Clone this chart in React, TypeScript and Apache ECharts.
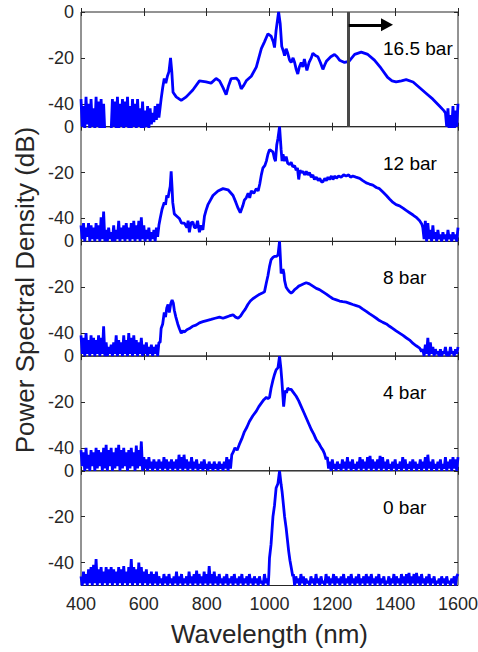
import React, { useEffect, useRef } from "react";
import * as echarts from "echarts";

// ---------- labels ----------
const pressures = ["16.5 bar", "12 bar", "8 bar", "4 bar", "0 bar"];
const yTickValues = [0, -20, -40];
const xTitle = "Wavelength (nm)";
const yTitle = "Power Spectral Density (dB)";
const noiseStep = 4; // nm spacing of noise-floor samples

// ---------- 16.5 bar ----------
const n16L = [
  -38, -50, -41, -51, -37, -49, -40, -52, -38, -50,
  -42, -51, -37, -50, -39, -52, -38, -51, -40, -53,
  -54, -53, -55, -54, -52,
  -38, -50, -39, -51, -37, -52, -40, -50, -38, -51,
  -39, -50, -37, -51, -41, -52, -38, -50, -40, -51,
  -38, -50, -42, -51, -39, -52, -43, -50, -41, -51,
  -42, -49, -44, -48, -41, -47, -40, -46,
];
const main16: [number, number][] = [
  [655, -38], [660, -33], [665, -29], [670, -31], [675, -28], [680, -26], [685, -20], [689, -26],
  [693, -35], [703, -37], [719, -38.5], [735, -37], [756, -34], [777, -30], [798, -30.5], [814, -31],
  [830, -29], [841, -30], [852, -33], [862, -36], [870, -32], [878, -29], [894, -28.8], [902, -30],
  [910, -33.5], [918, -32], [926, -30], [942, -28], [958, -24], [974, -16], [984, -13], [995, -9.5],
  [1005, -10.5], [1012, -13], [1016, -15.5], [1021, -8], [1029, 0], [1034, -5], [1039, -15], [1044, -17],
  [1048, -19], [1053, -16], [1058, -18], [1064, -21], [1069, -22], [1075, -20], [1080, -22], [1085, -25],
  [1090, -27], [1095, -24], [1101, -22], [1106, -24], [1111, -20.5], [1115, -23], [1119, -25.5], [1126, -22],
  [1133, -20], [1138, -18], [1146, -19], [1154, -19.5], [1162, -22], [1170, -25], [1176, -23], [1181, -21.5],
  [1195, -19.5], [1207, -18.5], [1215, -19.5], [1223, -21], [1239, -22], [1253, -21.5], [1262, -20], [1271, -18.5],
  [1292, -17.5], [1313, -18.5], [1334, -21], [1355, -24.5], [1376, -28.5], [1390, -30], [1403, -30.5], [1420, -30],
  [1435, -29.5], [1457, -30.5], [1478, -33], [1499, -35.5], [1520, -38], [1541, -41], [1555, -43],
];
const n16R = [-44, -50, -42, -52, -45, -51, -41, -53, -43, -50, -40];

// ---------- 12 bar ----------
const n12L = [
  -43, -49, -42, -50, -44, -48, -42, -50, -43, -49,
  -44, -50, -42, -49, -43, -50, -39.5, -49, -37, -50,
  -45, -50, -44, -49, -46, -50, -43, -50, -45, -49,
  -41, -50, -44, -49, -43, -50, -42, -49, -44, -50,
  -42, -49, -41, -50, -43, -49, -41, -50, -39.5, -49,
  -43, -50, -45, -49, -44, -50, -46, -49, -45, -50,
  -44, -48, -43,
];
const main12: [number, number][] = [
  [652, -40], [658, -36], [665, -33], [669, -34], [673, -30], [677, -31], [681, -28], [684, -26],
  [687, -19.5], [690, -27], [692, -33], [697, -38], [705, -39], [713, -40], [720, -42], [729, -42],
  [737, -44], [741, -41], [745, -46], [750, -42], [756, -41.5], [761, -44], [766, -44], [771, -41],
  [777, -46], [782, -43], [788, -45], [793, -39], [798, -36.5], [804, -34], [812, -32], [820, -30],
  [836, -28], [852, -27], [868, -27.5], [884, -30], [893, -33], [900, -35.5], [907, -37.5], [915, -34.5],
  [920, -32], [926, -31], [932, -29], [937, -31], [942, -28], [950, -29], [958, -27], [964, -28],
  [969, -25], [974, -21], [979, -18], [985, -17], [990, -15], [995, -12], [1000, -10], [1006, -10.5],
  [1011, -11], [1016, -14], [1019, -15], [1023, -8], [1027, -5], [1032, 0], [1037, -10], [1040, -15],
  [1043, -12], [1048, -15], [1053, -13], [1058, -16], [1064, -16.5], [1069, -15.5], [1074, -17.5], [1080, -17],
  [1085, -19], [1089, -18], [1093, -23], [1097, -19], [1101, -20], [1106, -19.5], [1112, -21], [1117, -19.5],
  [1122, -21], [1127, -20], [1133, -22], [1138, -21], [1143, -23], [1149, -22], [1155, -23.5], [1160, -22.5],
  [1165, -24], [1170, -24], [1176, -22.5], [1181, -23.5], [1186, -22], [1191, -23], [1197, -21.5], [1202, -23],
  [1208, -21.5], [1213, -22.5], [1220, -21.5], [1228, -22], [1236, -21], [1244, -21.5], [1252, -21], [1258, -22],
  [1265, -21.5], [1275, -22], [1287, -22.5], [1297, -23.5], [1308, -24.5], [1318, -25], [1329, -25.5], [1340, -26.5],
  [1350, -27], [1361, -28.5], [1372, -30], [1382, -31.5], [1393, -33], [1403, -34], [1414, -34.5], [1425, -35.5],
  [1435, -36.5], [1446, -37.5], [1457, -38.5], [1467, -39.5], [1478, -41], [1485, -42.5],
];
const n12R = [
  -44, -49, -41, -50, -42, -49, -45, -50, -43, -49,
  -46, -50, -45, -49, -47, -50, -46, -49, -47, -50,
  -45, -49, -47, -50, -46, -49, -47, -50, -44,
];

// ---------- 8 bar ----------
const n8L = [
  -41, -49, -42, -50, -40, -49, -43, -50, -41, -49,
  -42, -50, -43, -49, -41, -50, -42, -49, -37, -50,
  -44, -50, -46, -49, -45, -50, -44, -49, -41, -50,
  -43, -49, -44, -50, -41, -49, -43, -50, -40, -49,
  -42, -50, -41, -49, -43, -50, -44, -49, -42, -50,
  -45, -49, -44, -50, -46, -49, -45, -50, -46, -49,
  -45, -50, -44,
];
const main8: [number, number][] = [
  [652, -44], [655, -38], [660, -36], [665, -31], [669, -33], [673, -29], [677, -27.5], [681, -31],
  [686, -27], [690, -25.5], [694, -27], [697, -30], [702, -33], [708, -36], [713, -38], [719, -40],
  [724, -39], [729, -39.5], [737, -38.5], [745, -38], [755, -37], [766, -36.5], [777, -35.5], [788, -35],
  [800, -34.5], [814, -34], [827, -33.5], [841, -33], [852, -33.5], [862, -33], [872, -32.5], [884, -32],
  [892, -33], [900, -33.5], [908, -32.5], [915, -31], [923, -29.5], [931, -27.5], [939, -26], [947, -25],
  [958, -24], [969, -23], [977, -22.5], [984, -22], [990, -18], [995, -15], [1000, -11], [1005, -8],
  [1011, -7], [1016, -6.5], [1022, -6.5], [1027, -6], [1032, 0], [1035, -8], [1037, -14], [1040, -13],
  [1043, -12], [1046, -14], [1048, -17], [1053, -20], [1058, -21], [1064, -22], [1069, -22.5], [1074, -22],
  [1080, -21], [1085, -20.5], [1093, -19.5], [1101, -19], [1109, -18.5], [1117, -18], [1127, -18.5], [1138, -19.5],
  [1149, -20.5], [1159, -21], [1170, -22], [1181, -23], [1191, -24], [1202, -25], [1213, -25.5], [1223, -26],
  [1233, -26.3], [1244, -26.5], [1255, -27], [1265, -27.5], [1276, -28], [1287, -28.5], [1297, -29.5], [1308, -30.5],
  [1318, -31.5], [1329, -32.5], [1340, -33.5], [1350, -34.5], [1361, -35.3], [1372, -36], [1382, -37], [1393, -38],
  [1403, -39], [1414, -40], [1425, -41], [1435, -42], [1446, -43], [1457, -44.5], [1467, -45.5], [1478, -46.5],
  [1484, -48],
];
const n8R = [
  -47, -50, -45, -49, -42, -50, -44, -49, -46, -50,
  -47, -49, -48, -50, -47, -50, -48, -49, -46, -50,
  -48, -50, -46, -49, -48, -50, -47, -49, -46,
];

// ---------- 4 bar ----------
const n4L = [
  -41, -48, -42, -50, -40, -49, -43, -50, -41, -48,
  -42, -50, -40, -49, -41, -48, -42, -50, -40, -49,
  -38.7, -50, -41, -48, -40, -50, -42, -49, -40, -48,
  -38.7, -50, -41, -49, -40, -48, -42, -50, -41, -49,
  -40, -48, -42, -50, -39, -49, -41, -48, -37.2, -50,
  -44, -49, -45, -50, -44, -49, -46, -50, -45, -49,
  -46, -50, -45, -49, -46, -50, -44, -49, -45, -50,
  -46, -49, -45, -50, -46, -49, -45, -50, -43, -49,
  -44, -50, -43, -49, -45, -50, -46, -49, -44, -50,
  -46, -49, -45, -50, -47, -49, -46, -50, -45, -49,
  -47, -50, -46, -49, -47, -50, -46, -49, -47, -50,
  -46, -49, -47, -50, -46, -49, -44, -50, -45, -49,
  -43,
];
const main4: [number, number][] = [
  [884, -42], [890, -40], [897, -41], [904, -38.5], [912, -36], [920, -33], [928, -31], [936, -28.5],
  [947, -26], [958, -24], [966, -22], [974, -20.5], [982, -19], [990, -18], [995, -18.5], [1000, -18],
  [1005, -14], [1011, -10.5], [1016, -8], [1021, -6], [1027, -5], [1032, 0], [1036, -5], [1039, -10],
  [1042, -16], [1045, -22], [1048, -18], [1050, -15], [1054, -16], [1058, -14], [1063, -14.5], [1069, -14.5],
  [1077, -16], [1085, -17.5], [1093, -19.5], [1101, -22], [1109, -24.5], [1117, -27], [1125, -29.5], [1133, -32],
  [1141, -34], [1149, -36.5], [1157, -38], [1165, -40], [1170, -41], [1175, -42.5], [1180, -45],
];
const n4R = [
  -44, -49, -46, -50, -45, -49, -47, -50, -46, -49,
  -47, -50, -45, -49, -46, -50, -44, -49, -46, -50,
  -45, -49, -47, -50, -46, -49, -44, -50, -45, -49,
  -46, -50, -44, -49, -43.5, -50, -45, -49, -46, -50,
  -45, -49, -43.5, -50, -44, -49, -46, -50, -45, -49,
  -47, -50, -46, -49, -45, -50, -47, -49, -46, -50,
  -44, -49, -45, -50, -47, -49, -46, -50, -45, -49,
  -46, -50, -47, -49, -45, -50, -46, -49, -44, -50,
  -43, -49, -46, -50, -45, -49, -47, -50, -46, -49,
  -45, -50, -47, -49, -44, -50, -46, -49, -45, -50,
  -44, -49, -45, -50, -44,
];

// ---------- 0 bar ----------
const n0L = [
  -46, -50, -44, -49, -45, -50, -43, -49, -42, -50,
  -41, -49, -38.5, -50, -43, -49, -42, -50, -44, -49,
  -42, -50, -43, -49, -42, -50, -43, -49, -44, -50,
  -42, -49, -43, -50, -41.5, -49, -44, -50, -42, -49,
  -38.5, -50, -42, -49, -43, -50, -40, -49, -42, -50,
  -44, -49, -43, -50, -45, -49, -44, -50, -45, -49,
  -44, -50, -46, -49, -47, -50, -45, -49, -46, -50,
  -45, -49, -47, -50, -46, -49, -44, -50, -46, -49,
  -45, -50, -47, -49, -46, -50, -44, -49, -46, -50,
  -45, -49, -43.5, -50, -45, -49, -46, -50, -44, -49,
  -45, -50, -41.5, -49, -45, -50, -44, -49, -46, -50,
  -45, -49, -47, -50, -46, -49, -45, -50, -47, -49,
  -46, -50, -45, -49, -47, -50, -46, -49, -45, -50,
  -47, -49, -46, -50, -45, -49, -47, -50, -46, -49,
  -47, -50, -46, -49, -48, -50, -45, -49, -47, -50,
];
const main0: [number, number][] = [
  [998, -45], [1000, -38], [1005, -32], [1008, -26], [1011, -20], [1016, -15], [1021, -7.5], [1027, -5.5],
  [1032, 0], [1037, -6], [1040, -9], [1043, -13], [1048, -20], [1053, -25], [1057, -30], [1061, -35],
  [1065, -39], [1069, -42], [1074, -46],
];
const n0R = [
  -45, -50, -46, -49, -47, -50, -45, -49, -46, -50,
  -47, -49, -48, -50, -46, -49, -47, -50, -45, -49,
  -47, -50, -46, -49, -48, -50, -45, -49, -46, -50,
  -47, -49, -45, -50, -46, -49, -47, -50, -46, -49,
  -45, -50, -47, -49, -46, -50, -45, -49, -47, -50,
  -46, -49, -45, -50, -47, -49, -46, -50, -45, -49,
  -46, -50, -45, -49, -47, -50, -46, -49, -45, -50,
  -47, -49, -46, -50, -48, -49, -46, -50, -47, -49,
  -45, -50, -46, -49, -47, -50, -45, -49, -46, -50,
  -45, -49, -44.5, -50, -46, -49, -45, -50, -44.5, -49,
  -46, -50, -45, -49, -47, -50, -46, -49, -45, -50,
  -47, -49, -46, -50, -48, -49, -47, -50, -46, -49,
  -47, -50, -46, -49, -48, -50, -47, -49, -46, -50,
  -46, -45,
];

// cut-off marker (top panel)
const cutoffWl = 1250;
const arrowFrom = 1252;
const arrowTo = 1374;
const arrowDb = -5.6;

const seq = (start: number, vals: number[]): [number, number][] =>
  vals.map((v, i) => [start + i * noiseStep, v]);

const spectra: [number, number][][] = [
  [...seq(400, n16L), ...main16, ...seq(1560, n16R)],
  [...seq(400, n12L), ...main12, ...seq(1488, n12R)],
  [...seq(400, n8L), ...main8, ...seq(1488, n8R)],
  [...seq(400, n4L), ...main4, ...seq(1184, n4R)],
  [...seq(400, n0L), ...main0, ...seq(1076, n0R)],
];

const FONT = "'Liberation Sans', Arial, Helvetica, sans-serif";
const AXIS = "#262626";
const PANEL_TOP = 12;
const PANEL_H = 114.7;
const LEFT = 81;
const WIDTH = 377;
const labelY = [48, 163, 277.5, 392.5, 507.5];

export default function App() {
  const ref = useRef<HTMLDivElement>(null);
  useEffect(() => {
    if (!ref.current) return;
    const chart = echarts.init(ref.current, undefined, { renderer: "svg" });
    const grids: any[] = [];
    const xAxes: any[] = [];
    const yAxes: any[] = [];
    const series: any[] = [];
    spectra.forEach((data, i) => {
      const last = i === spectra.length - 1;
      grids.push({
        left: LEFT,
        width: WIDTH,
        top: PANEL_TOP + i * PANEL_H,
        height: PANEL_H,
        show: true,
        borderColor: AXIS,
        borderWidth: 1,
        backgroundColor: "transparent",
        containLabel: false,
        outerBoundsMode: "none",
      });
      const xBase = {
        type: "value",
        gridIndex: i,
        min: 400,
        max: 1600,
        interval: 200,
        splitLine: { show: false },
        axisLine: { show: false },
        axisTick: { show: true, inside: true, length: 4, lineStyle: { color: AXIS } },
      };
      xAxes.push({
        ...xBase,
        position: "bottom",
        axisLabel: {
          show: last,
          fontSize: 18,
          color: AXIS,
          fontFamily: FONT,
          margin: 9,
          formatter: (v: number) => String(v),
        },
      });
      xAxes.push({ ...xBase, position: "top", axisLabel: { show: false } });
      const yBase = {
        type: "value",
        gridIndex: i,
        min: -50,
        max: 0,
        splitLine: { show: false },
        axisLine: { show: false },
        axisTick: {
          show: true,
          inside: true,
          length: 4,
          customValues: yTickValues,
          lineStyle: { color: AXIS },
        },
      };
      yAxes.push({
        ...yBase,
        position: "left",
        axisLabel: {
          show: true,
          customValues: yTickValues,
          fontSize: 18,
          color: AXIS,
          fontFamily: FONT,
          margin: 7,
          formatter: (v: number) => String(v),
        },
      });
      yAxes.push({ ...yBase, position: "right", axisLabel: { show: false } });
      const s: any = {
        type: "line",
        xAxisIndex: i * 2,
        yAxisIndex: i * 2,
        data,
        showSymbol: false,
        symbol: "none",
        clip: true,
        lineStyle: { color: "#0000ff", width: 2.8 },
        silent: true,
      };
      if (i === 0) {
        s.markLine = {
          silent: true,
          symbol: "none",
          label: { show: false },
          data: [
            [
              { coord: [cutoffWl, 0], symbol: "none" },
              { coord: [cutoffWl, -50], symbol: "none", lineStyle: { color: "#484848", width: 3, type: "solid" } },
            ],
            [
              { coord: [arrowFrom, arrowDb], symbol: "none" },
              {
                coord: [arrowTo, arrowDb],
                symbol: "triangle",
                symbolSize: [13, 12],
                lineStyle: { color: "#000000", width: 3, type: "solid" },
                itemStyle: { color: "#000000" },
              },
            ],
          ],
        };
      }
      series.push(s);
    });

    const graphic: any[] = pressures.map((p, i) => ({
      type: "text",
      x: 383,
      y: labelY[i],
      style: {
        text: p,
        fill: "#000000",
        fontSize: 19,
        fontFamily: FONT,
        align: "left",
        textAlign: "left",
        verticalAlign: "middle",
        textVerticalAlign: "middle",
      },
    }));
    graphic.push({
      type: "text",
      x: 269.5,
      y: 634,
      style: {
        text: xTitle,
        fill: AXIS,
        fontSize: 26,
        fontFamily: FONT,
        align: "center",
        textAlign: "center",
        verticalAlign: "middle",
        textVerticalAlign: "middle",
      },
    });
    graphic.push({
      type: "text",
      x: 25,
      y: 290,
      rotation: Math.PI / 2,
      style: {
        text: yTitle,
        fill: AXIS,
        fontSize: 26,
        fontFamily: FONT,
        align: "center",
        textAlign: "center",
        verticalAlign: "middle",
        textVerticalAlign: "middle",
      },
    });

    chart.setOption({
      animation: false,
      backgroundColor: "#ffffff",
      grid: grids,
      xAxis: xAxes,
      yAxis: yAxes,
      series,
      graphic,
    });
    return () => chart.dispose();
  }, []);
  return (
    <div
      ref={ref}
      style={{ position: "fixed", left: 0, top: 0, width: 478, height: 652 }}
    />
  );
}
